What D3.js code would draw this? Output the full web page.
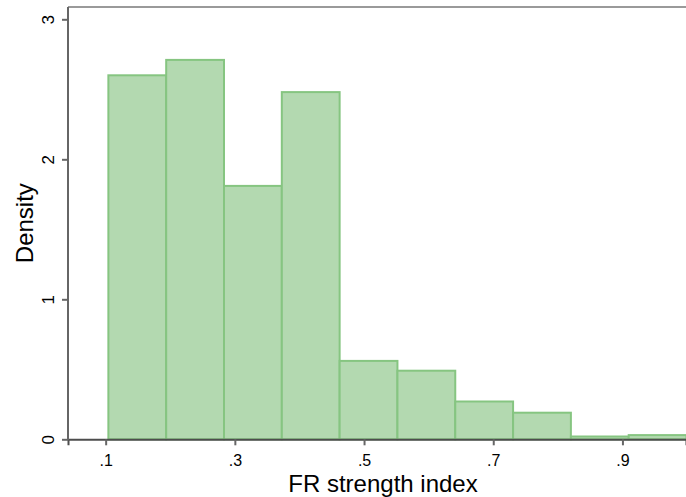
<!DOCTYPE html>
<html>
<head>
<meta charset="utf-8">
<script src="https://cdn.jsdelivr.net/npm/d3@7"></script>
<style>
  body { margin: 0; background: #fff; }
  text { font-family: "Liberation Sans", Arial, sans-serif; }
</style>
</head>
<body>
<div id="chart"></div>
<script>
// histogram bins (left edge) and density heights
var binStart = [0.1042, 0.1937, 0.2832, 0.3727, 0.4622, 0.5517, 0.6412, 0.7307, 0.8202, 0.9097];
var binWidth = 0.0895;
var density  = [2.60, 2.71, 1.81, 2.48, 0.56, 0.49, 0.27, 0.19, 0.02, 0.03];

var xTicks = [0.1, 0.3, 0.5, 0.7, 0.9];
var xTickLabels = ['.1', '.3', '.5', '.7', '.9'];
var yTicks = [0, 1, 2, 3];

var width  = 686,
    height = 497;

var plotLeft = 68, plotRight = 686, plotTop = 7, plotBottom = 439.3;

var xScale = d3.scaleLinear()
                .domain([0.0417, 0.9984])
                .range([plotLeft, plotRight]);

var yScale = d3.scaleLinear()
                .domain([0, 3])
                .range([plotBottom, plotBottom - 3 * 140]);

var svg = d3.select('#chart').append('svg')
    .attr('width', width)
    .attr('height', height);

// frame top line
svg.append('line')
    .attr('x1', plotLeft).attr('x2', plotRight)
    .attr('y1', plotTop).attr('y2', plotTop)
    .style('stroke', '#9a9a9a')
    .style('stroke-width', 2);

// bars
svg.selectAll('rect.bar').data(density)
    .enter().append('rect')
        .attr('class', 'bar')
        .style('fill', '#b3d9b0')
        .style('stroke', '#86c581')
        .style('stroke-width', 2)
        .attr('x', function(d, i) { return xScale(binStart[i]); })
        .attr('width', function(d, i) { return xScale(binStart[i] + binWidth) - xScale(binStart[i]); })
        .attr('y', function(d) { return yScale(d); })
        .attr('height', function(d) { return plotBottom - yScale(d); });

// x axis
var xAxis = d3.axisBottom(xScale)
    .tickValues(xTicks)
    .tickFormat(function(d, i) { return xTickLabels[i]; })
    .tickSize(6)
    .tickPadding(9);

var gx = svg.append('g')
    .attr('transform', 'translate(0,' + plotBottom + ')')
    .call(xAxis);
gx.select('.domain').style('stroke', '#4d4d4d').style('stroke-width', 2);
gx.selectAll('.tick line').style('stroke', '#666').style('stroke-width', 2);
gx.selectAll('.tick text').style('font-size', '16px').style('fill', '#000');

// y axis
var yAxis = d3.axisLeft(yScale)
    .tickValues(yTicks)
    .tickFormat(d3.format('d'))
    .tickSize(6)
    .tickPadding(0);

var gy = svg.append('g')
    .attr('transform', 'translate(' + plotLeft + ',0)')
    .call(yAxis);
gy.select('.domain').attr('d', 'M0,' + plotTop + 'V' + (plotBottom + 1)).style('stroke', '#666').style('stroke-width', 2);
gy.selectAll('.tick line').style('stroke', '#666').style('stroke-width', 2);
gy.selectAll('.tick text')
    .style('font-size', '17px')
    .style('fill', '#000')
    .attr('x', -14)
    .attr('dy', null)
    .attr('transform', 'rotate(-90,-14,0)')
    .style('text-anchor', 'middle');

// axis titles
svg.append('text')
    .attr('x', 383)
    .attr('y', 492)
    .style('text-anchor', 'middle')
    .style('font-size', '24px')
    .text('FR strength index');

svg.append('text')
    .attr('transform', 'translate(33,' + ((plotTop + plotBottom) / 2) + ') rotate(-90)')
    .style('text-anchor', 'middle')
    .style('font-size', '24px')
    .text('Density');
</script>
</body>
</html>
